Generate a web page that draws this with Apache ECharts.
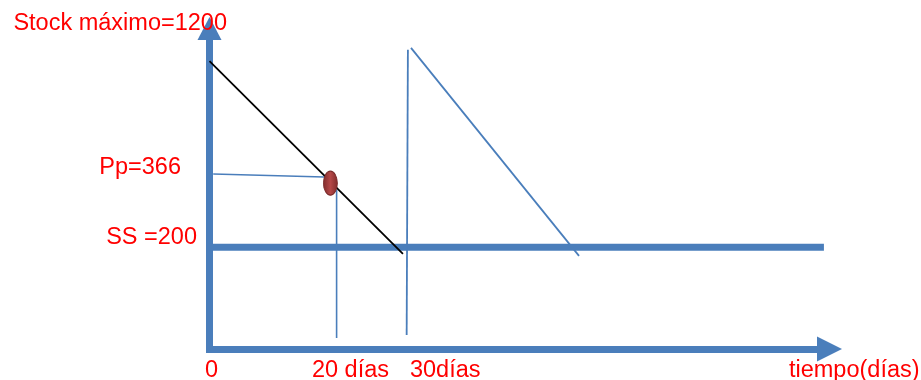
<!DOCTYPE html>
<html>
<head>
<meta charset="utf-8">
<script src="https://cdn.jsdelivr.net/npm/echarts@6/dist/echarts.min.js"></script>
<style>
  html, body { margin: 0; padding: 0; background: #fff; }
  #main { width: 921px; height: 380px; }
</style>
</head>
<body>
<div id="main"></div>
<script>
// ejes: x = tiempo (unidades del dibujo), y = stock (unidades del dibujo)
var xMax = 100;
var yMax = 630;

// tramos del diagrama
var consumo1 = [[0, 566], [31.2, 187]];
var lineaPp = [[0.6, 344], [18.5, 338]];
var puntoPp = [[19.5, 326]];
var linea20 = [[20.5, 313], [20.5, 21.6]];
var reposicion = [[31.8, 27.5], [32.0, 588]];
var consumo2 = [[32.5, 592], [59.6, 183]];
var lineaSS = [[0, 200], [99.1, 200]];

// textos
var yTextos = ['Stock máximo=1200', 'Pp=366', 'SS =200'];
var yTextosVal = [630, 344, 200];
var xTextos = ['0', '20 días', '30días', 'tiempo(días)'];
var xTextosVal = [0, 20, 30, 100];

var azul = '#4a7ebb';
var rojo = '#ff0000';
var fuente = 'Liberation Sans, Arial, sans-serif';

var myChart = echarts.init(document.getElementById('main'));

function tramo(data, color, width) {
  return {
    type: 'line',
    data: data,
    symbol: 'none',
    silent: true,
    clip: false,
    z: 3,
    lineStyle: { color: color, width: width }
  };
}

function texto(val, txt, isX, off) {
  return {
    value: isX ? [val, 0] : [0, val],
    label: {
      show: true,
      formatter: txt,
      position: off.pos,
      align: off.align,
      verticalAlign: 'middle',
      color: rojo,
      fontSize: 23.5,
      fontFamily: fuente
    }
  };
}

var yOff = [
  { pos: [17.5, -5], align: 'right' },
  { pos: [-28.5, -6.5], align: 'right' },
  { pos: [-12.5, -9.5], align: 'right' }
];
var xOff = [
  { pos: [-4.5, 21.5], align: 'left' },
  { pos: [-21.5, 21.5], align: 'left' },
  { pos: [14.5, 21.5], align: 'left' },
  { pos: [-40.5, 21.5], align: 'left' }
];

var textosData = [];
yTextos.forEach(function (t, i) { textosData.push(texto(yTextosVal[i], t, false, yOff[i])); });
xTextos.forEach(function (t, i) { textosData.push(texto(xTextosVal[i], t, true, xOff[i])); });

var option = {
  animation: false,
  grid: { left: 209.5, right: 91.5, top: 28.5, bottom: 31, containLabel: false },
  xAxis: {
    type: 'value',
    min: 0,
    max: xMax,
    splitLine: { show: false },
    axisTick: { show: false },
    axisLabel: { show: false },
    axisLine: {
      show: true,
      symbol: ['none', 'triangle'],
      symbolSize: [25, 25],
      lineStyle: { color: azul, width: 7, cap: 'square' }
    }
  },
  yAxis: {
    type: 'value',
    min: 0,
    max: yMax,
    splitLine: { show: false },
    axisTick: { show: false },
    axisLabel: { show: false },
    axisLine: {
      show: true,
      symbol: ['none', 'triangle'],
      symbolSize: [24, 23],
      lineStyle: { color: azul, width: 7, cap: 'square' }
    }
  },
  series: [
    tramo(lineaSS, azul, 7),
    tramo(consumo1, '#000000', 1.8),
    tramo(lineaPp, azul, 1.6),
    tramo(linea20, azul, 1.6),
    tramo(reposicion, azul, 1.8),
    tramo(consumo2, azul, 1.8),
    {
      type: 'scatter',
      data: puntoPp,
      symbol: 'circle',
      symbolSize: [14, 24],
      silent: true,
      z: 5,
      itemStyle: {
        opacity: 1,
        color: new echarts.graphic.LinearGradient(0, 0, 1, 0, [
          { offset: 0, color: '#7e2b2b' },
          { offset: 0.5, color: '#b54848' },
          { offset: 1, color: '#7e2b2b' }
        ]),
        borderColor: '#7a2a2a',
        borderWidth: 1
      }
    },
    {
      type: 'scatter',
      data: textosData,
      symbolSize: 0.1,
      silent: true,
      clip: false,
      z: 6,
      itemStyle: { color: 'transparent', opacity: 1 }
    }
  ]
};

myChart.setOption(option);
</script>
</body>
</html>
